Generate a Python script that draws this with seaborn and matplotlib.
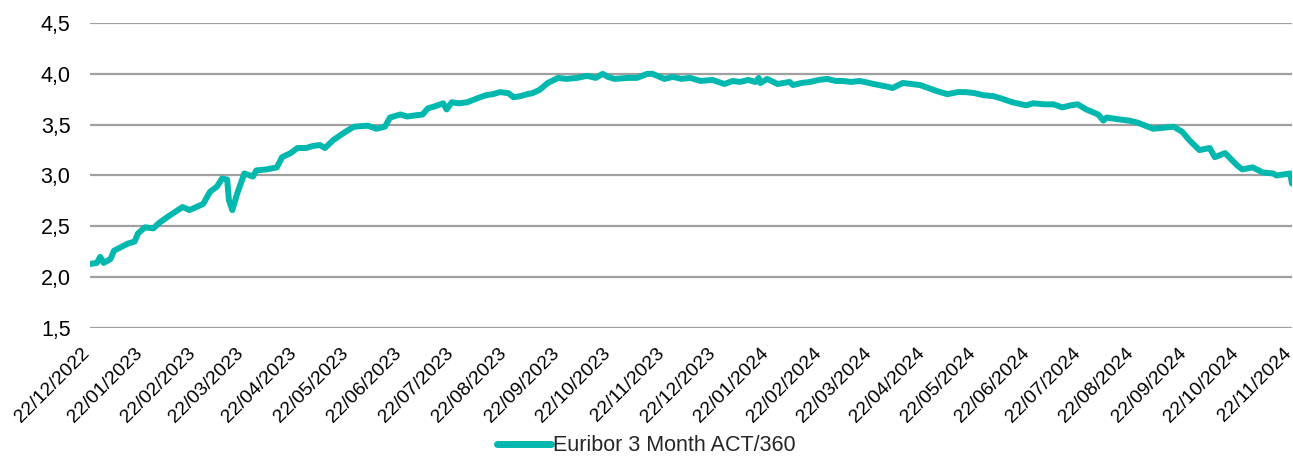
import pandas as pd
import matplotlib
matplotlib.use("Agg")
import matplotlib.pyplot as plt
import matplotlib.dates as mdates
import matplotlib.transforms as mtransforms
from matplotlib.ticker import FuncFormatter, MultipleLocator
import seaborn as sns

# Euribor 3M fixings (approximate)
dates = [
    "2022-12-22", "2022-12-26", "2022-12-28", "2022-12-30", "2023-01-03", "2023-01-05",
    "2023-01-13", "2023-01-17", "2023-01-19", "2023-01-23", "2023-01-28", "2023-01-31",
    "2023-02-05", "2023-02-14", "2023-02-18", "2023-02-26", "2023-03-02", "2023-03-06",
    "2023-03-09", "2023-03-12", "2023-03-13", "2023-03-15", "2023-03-18", "2023-03-22",
    "2023-03-27", "2023-03-29", "2023-04-04", "2023-04-10", "2023-04-13", "2023-04-18",
    "2023-04-22", "2023-04-27", "2023-05-01", "2023-05-05", "2023-05-08", "2023-05-13",
    "2023-05-20", "2023-05-25", "2023-06-02", "2023-06-07", "2023-06-12", "2023-06-15",
    "2023-06-21", "2023-06-25", "2023-06-29", "2023-07-04", "2023-07-07", "2023-07-11",
    "2023-07-16", "2023-07-18", "2023-07-21", "2023-07-25", "2023-07-30", "2023-08-05",
    "2023-08-10", "2023-08-14", "2023-08-18", "2023-08-23", "2023-08-26", "2023-08-30",
    "2023-09-03", "2023-09-06", "2023-09-10", "2023-09-15", "2023-09-21", "2023-09-26",
    "2023-10-02", "2023-10-08", "2023-10-13", "2023-10-17", "2023-10-20", "2023-10-24",
    "2023-11-01", "2023-11-06", "2023-11-12", "2023-11-15", "2023-11-22", "2023-11-27",
    "2023-12-02", "2023-12-07", "2023-12-13", "2023-12-20", "2023-12-27", "2024-01-01",
    "2024-01-05", "2024-01-10", "2024-01-14", "2024-01-16", "2024-01-17", "2024-01-21",
    "2024-01-27", "2024-02-03", "2024-02-05", "2024-02-10", "2024-02-15", "2024-02-20",
    "2024-02-25", "2024-03-01", "2024-03-05", "2024-03-10", "2024-03-15", "2024-03-23",
    "2024-04-01", "2024-04-03", "2024-04-09", "2024-04-14", "2024-04-19", "2024-04-29",
    "2024-05-05", "2024-05-11", "2024-05-16", "2024-05-21", "2024-05-26", "2024-06-01",
    "2024-06-05", "2024-06-12", "2024-06-20", "2024-06-24", "2024-07-01", "2024-07-06",
    "2024-07-11", "2024-07-16", "2024-07-20", "2024-07-25", "2024-08-01", "2024-08-04",
    "2024-08-06", "2024-08-14", "2024-08-19", "2024-08-24", "2024-09-02", "2024-09-08",
    "2024-09-14", "2024-09-19", "2024-09-23", "2024-09-29", "2024-10-05", "2024-10-08",
    "2024-10-14", "2024-10-21", "2024-10-24", "2024-10-30", "2024-11-05", "2024-11-11",
    "2024-11-13", "2024-11-21", "2024-11-22",
]
rates = [
    2.13, 2.14, 2.20, 2.14, 2.18, 2.26,
    2.33, 2.35, 2.43, 2.49, 2.48, 2.53,
    2.59, 2.69, 2.66, 2.72, 2.84, 2.89,
    2.97, 2.96, 2.76, 2.66, 2.83, 3.02,
    2.99, 3.05, 3.06, 3.08, 3.18, 3.22,
    3.27, 3.27, 3.29, 3.30, 3.27, 3.35,
    3.43, 3.48, 3.49, 3.46, 3.48, 3.57,
    3.60, 3.58, 3.59, 3.60, 3.66, 3.68,
    3.71, 3.65, 3.72, 3.71, 3.72, 3.76,
    3.79, 3.80, 3.82, 3.81, 3.77, 3.78,
    3.80, 3.81, 3.84, 3.91, 3.96, 3.95,
    3.96, 3.98, 3.96, 4.00, 3.97, 3.95,
    3.96, 3.96, 4.00, 4.00, 3.95, 3.97,
    3.95, 3.96, 3.93, 3.94, 3.90, 3.93,
    3.92, 3.94, 3.92, 3.96, 3.91, 3.95,
    3.90, 3.92, 3.89, 3.91, 3.92, 3.94,
    3.95, 3.93, 3.93, 3.92, 3.93, 3.90,
    3.87, 3.86, 3.91, 3.90, 3.89, 3.83,
    3.80, 3.82, 3.82, 3.81, 3.79, 3.78,
    3.76, 3.72, 3.69, 3.71, 3.70, 3.70,
    3.67, 3.69, 3.70, 3.65, 3.60, 3.54,
    3.57, 3.55, 3.54, 3.52, 3.46, 3.47,
    3.48, 3.43, 3.35, 3.25, 3.27, 3.18,
    3.22, 3.10, 3.06, 3.08, 3.03, 3.02,
    3.00, 3.02, 2.92,
]
series_name = "Euribor 3 Month ACT/360"

df = pd.DataFrame({"Date": pd.to_datetime(dates), "Rate": rates, "Series": series_name})

sns.set_style("white")
plt.rcParams["font.family"] = ["Liberation Sans", "DejaVu Sans"]

fig = plt.figure(figsize=(12.93, 4.59), dpi=100)
ax = fig.add_axes([0.0696, 0.2854, 0.9296, 0.6645])

sns.lineplot(data=df, x="Date", y="Rate", hue="Series", palette=["#00B8AD"],
             linewidth=4.3, ax=ax, legend=False)

ax.set_ylim(1.5, 4.5)
ax.set_xlim(pd.Timestamp("2022-12-22"), pd.Timestamp("2024-11-22"))
ax.yaxis.set_major_locator(MultipleLocator(0.5))
ax.yaxis.set_major_formatter(FuncFormatter(lambda v, p: f"{v:.1f}".replace(".", ",")))
ax.grid(axis="y", color="#A0A0A0", linewidth=1.6)
ax.set_axisbelow(True)
for s in ax.spines.values():
    s.set_visible(False)

ax.xaxis.set_major_locator(mdates.MonthLocator(bymonthday=22))
ax.xaxis.set_major_formatter(mdates.DateFormatter("%d/%m/%Y"))
ax.tick_params(axis="both", length=0, colors="#000000")
ax.tick_params(axis="y", pad=14, labelsize=15.5)
ax.tick_params(axis="x", pad=12, labelsize=14)
# nudge the rotated date labels left so the last one stays inside the figure
shift = mtransforms.ScaledTranslation(-9 / 100, 0, fig.dpi_scale_trans)
for lbl in ax.get_xticklabels():
    lbl.set_rotation(45)
    lbl.set_ha("right")
    lbl.set_va("top")
    lbl.set_rotation_mode("anchor")
    lbl.set_transform(lbl.get_transform() + shift)

ax.set_xlabel("")
ax.set_ylabel("")

handle = plt.Line2D([], [], color="#00B8AD", linewidth=5)
fig.legend([handle], [series_name], loc="lower center", bbox_to_anchor=(0.5, -0.022),
           frameon=False, fontsize=15.5, handlelength=2.5, handletextpad=0.1,
           borderpad=0.1)

fig.savefig("out.png", dpi=100)
